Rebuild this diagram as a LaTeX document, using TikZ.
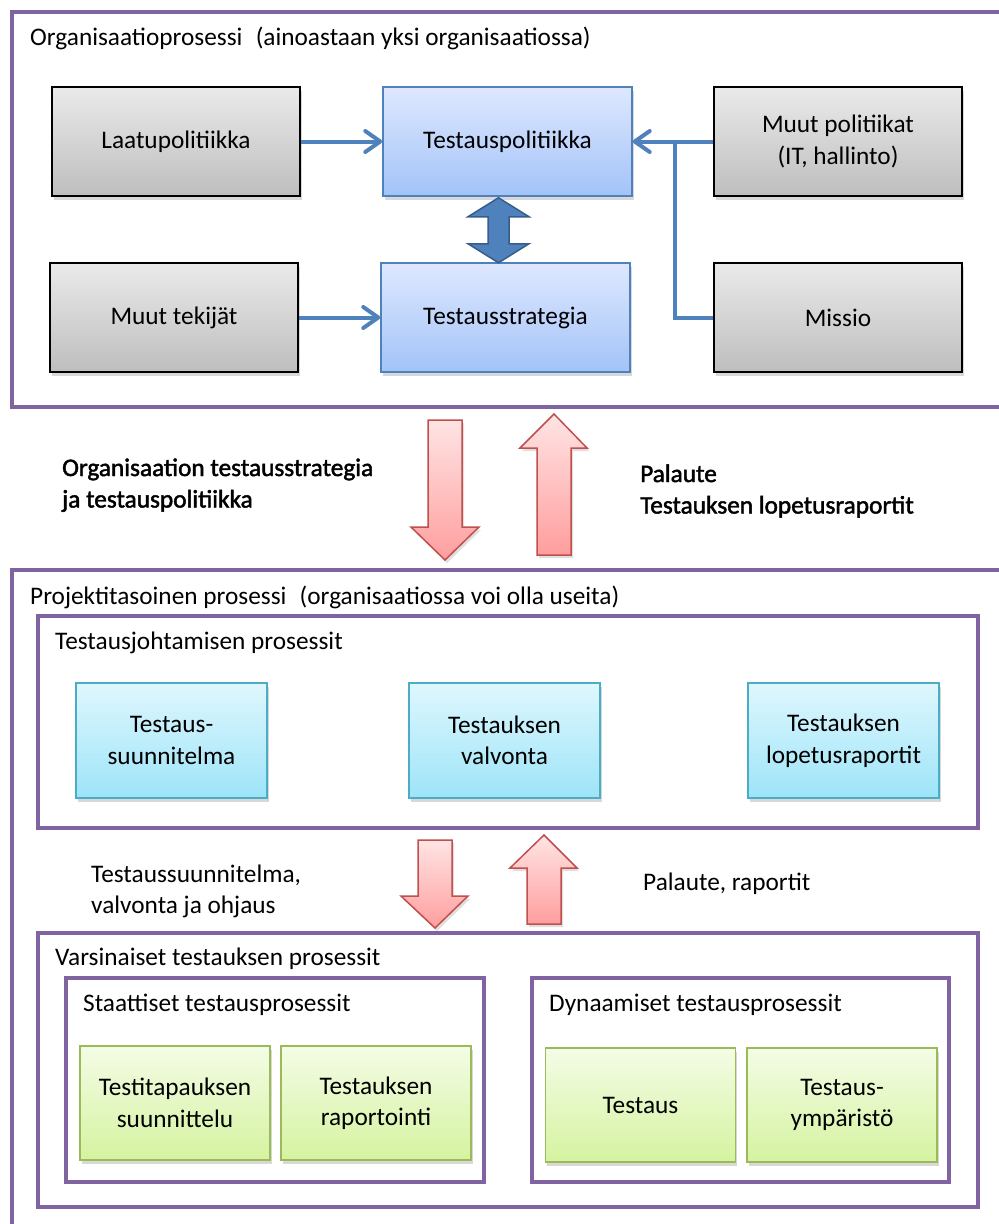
\documentclass[tikz,border=0pt]{standalone}
\usepackage{fontspec}
\setmainfont{Carlito}
\newfontfamily\heavyfont[FakeBold=1.8]{Carlito}
\usetikzlibrary{arrows.meta,shadows,calc}

\definecolor{purp}{HTML}{8064A2}
\definecolor{grayT}{HTML}{EAEAEA}
\definecolor{grayB}{HTML}{BEBEBE}
\definecolor{blueT}{HTML}{DEE8FE}
\definecolor{blueB}{HTML}{A3C3F8}
\definecolor{blueE}{HTML}{4F81BD}
\definecolor{blueD}{HTML}{385D8A}
\definecolor{cyanT}{HTML}{DFF7FE}
\definecolor{cyanB}{HTML}{9DE4F8}
\definecolor{cyanE}{HTML}{4BACC6}
\definecolor{grnT}{HTML}{F4FCE6}
\definecolor{grnB}{HTML}{D5F3A0}
\definecolor{grnE}{HTML}{9BBB59}
\definecolor{redT}{HTML}{FFE4E4}
\definecolor{redB}{HTML}{FF9E9E}
\definecolor{redE}{HTML}{C0504D}

\begin{document}
\begin{tikzpicture}[x=1pt,y=-1pt,
  font=\fontsize{25.3}{31.5}\selectfont,
  frame/.style={draw=purp, line width=4.5pt},
  shad/.style={drop shadow={opacity=0.3, shadow xshift=1.5pt, shadow yshift=-4pt}},
  gbox/.style={draw=black, line width=2pt, top color=grayT, bottom color=grayB,
    minimum width=248pt, minimum height=109pt, inner sep=0pt, align=center, shad},
  bbox/.style={draw=blueE, line width=1.5pt, top color=blueT, bottom color=blueB,
    minimum width=249pt, minimum height=109pt, inner sep=0pt, align=center, shad},
  cbox/.style={draw=cyanE, line width=1.5pt, top color=cyanT, bottom color=cyanB,
    minimum width=191pt, minimum height=115pt, inner sep=0pt, align=center, shad},
  grbox/.style={draw=grnE, line width=1.5pt, top color=grnT, bottom color=grnB,
    minimum width=190pt, minimum height=114pt, inner sep=0pt, align=center, shad},
  conn/.style={draw=blueE, line width=4pt, -{Straight Barb[length=15pt,width=21pt,round]}},
  connline/.style={draw=blueE, line width=4pt},
  redarrow/.style={draw=redE, line width=1.5pt, top color=redT, bottom color=redB,
    line join=miter, drop shadow={opacity=0.25, shadow xshift=2pt, shadow yshift=-3pt}},
  dblarrow/.style={draw=blueD, line width=1.5pt, fill=blueE, line join=miter},
  lbl/.style={anchor=base west, inner sep=0pt},
  heavylbl/.style={anchor=base west, inner sep=0pt, font=\fontsize{25.3}{31.5}\heavyfont}
]
\useasboundingbox (0,0) rectangle (999,1224);
\fill[white] (0,0) rectangle (999,1224);

% ---------- frames ----------
\draw[frame] (1003,12) -- (12,12) -- (12,407) -- (1003,407);
\draw[frame] (1003,570) -- (12,570) -- (12,1230);
\draw[frame] (38,616) rectangle (978,828);
\draw[frame] (38,933) rectangle (978,1207);
\draw[frame] (66,978) rectangle (484,1182);
\draw[frame] (532,978) rectangle (949,1182);

% ---------- titles ----------
\node[lbl] (t1) at (30,45) {Organisaatioprosessi\hspace{0.3em} (ainoastaan yksi organisaatiossa)};
\node[lbl] (t2) at (30,604) {Projektitasoinen prosessi\hspace{0.3em} (organisaatiossa voi olla useita)};
\node[lbl] (t3) at (55,649) {Testausjohtamisen prosessit};
\node[lbl] (t4) at (55,965) {Varsinaiset testauksen prosessit};
\node[lbl] (t5) at (83,1011) {Staattiset testausprosessit};
\node[lbl] (t6) at (549,1011) {Dynaamiset testausprosessit};

% ---------- organisation level ----------
\node[gbox] (lp) at (176,141.5) {Laatupolitiikka};
\node[gbox] (mt) at (174,317.5) {Muut tekijät};
\node[bbox] (tp) at (507.5,141.5) {Testauspolitiikka};
\node[bbox] (ts) at (505.5,317.5) {Testausstrategia};
\node[gbox] (mp) at (838,141.5) {Muut politiikat\\(IT, hallinto)};
\node[gbox] (mi) at (838,317.5) {Missio};

\draw[conn] (lp.east) -- (tp.west);
\draw[conn] (mt.east) -- (ts.west);
\draw[conn] (mp.west) -- (tp.east);
\coordinate (jn) at (675,141.5);
\draw[connline] (mi.west) -| (jn);

\path (tp.south) ++(-9,1) coordinate (dtop);
\draw[dblarrow] (dtop) -- ++(30.5,19) -- ++(-20,0) -- ++(0,27) -- ++(20,0)
  -- ++(-30.5,19) -- ++(-30.5,-19) -- ++(20,0) -- ++(0,-27) -- ++(-20,0) -- cycle;

% ---------- red arrows between levels ----------
\draw[redarrow] (428,420) -- (462,420) -- (462,527) -- (479,527) -- (445,560)
  -- (411,527) -- (428,527) -- cycle;
\draw[redarrow] (537,555) -- (571,555) -- (571,448) -- (587,448) -- (554,414)
  -- (520,448) -- (537,448) -- cycle;
\node[heavylbl] (l1) at (62,476) {\begin{tabular}[t]{@{}l@{}}Organisaation testausstrategia\\ja testauspolitiikka\end{tabular}};
\node[heavylbl] (l2) at (640,482) {\begin{tabular}[t]{@{}l@{}}Palaute\\Testauksen lopetusraportit\end{tabular}};

% ---------- management level ----------
\node[cbox] (c1) at (171.5,740.5) {Testaus-\\suunnitelma};
\node[cbox] (c2) at (504.5,740.5) {Testauksen\\valvonta};
\node[cbox] (c3) at (843.5,740.5) {Testauksen\\lopetusraportit};

\draw[redarrow] (418,840) -- (452,840) -- (452,896) -- (468,896) -- (435,928)
  -- (401,896) -- (418,896) -- cycle;
\draw[redarrow] (527,924) -- (561,924) -- (561,868) -- (577,868) -- (544,835)
  -- (510,868) -- (527,868) -- cycle;
\node[lbl] (l3) at (91,882) {\begin{tabular}[t]{@{}l@{}}Testaussuunnitelma,\\valvonta ja ohjaus\end{tabular}};
\node[lbl] (l4) at (643,890) {Palaute, raportit};

% ---------- actual test processes ----------
\node[grbox] (g1) at (175,1103) {Testitapauksen\\suunnittelu};
\node[grbox] (g2) at (376,1103) {Testauksen\\raportointi};
\node[grbox] (g3) at (640.5,1105) {Testaus};
\node[grbox] (g4) at (842,1105) {Testaus-\\ympäristö};
\end{tikzpicture}
\end{document}
